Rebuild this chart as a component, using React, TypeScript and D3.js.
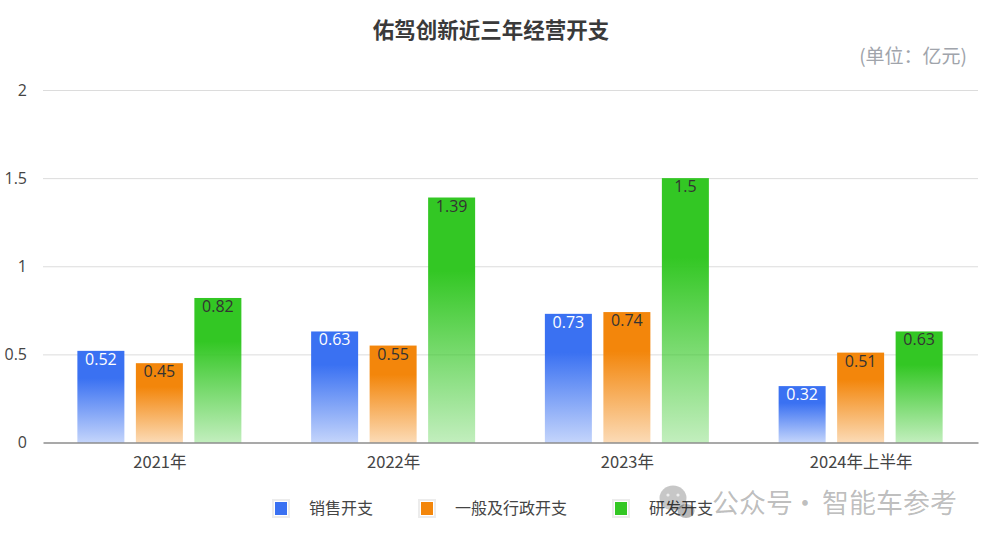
import { useEffect, useRef } from "react"
import * as d3 from "d3"

const categories = ["2021年", "2022年", "2023年", "2024年上半年"]
const seriesNames = ["销售开支", "一般及行政开支", "研发开支"]
const salesValues = [0.52, 0.63, 0.73, 0.32]
const adminValues = [0.45, 0.55, 0.74, 0.51]
const rdValues = [0.82, 1.39, 1.5, 0.63]
const seriesColors = ["#3a71f2", "#f3860b", "#33c724"]
const labelColors = ["#ffffff", "#333333", "#333333"]
const yTicks = [0, 0.5, 1, 1.5, 2]

const FONT = "'Open Sans', 'Noto Sans CJK SC', sans-serif"
const CJK = "'Noto Sans CJK SC', sans-serif"
const width = 991
const height = 544
const margin = { top: 90, right: 13, bottom: 101.5, left: 43 }

const App = () => {
  const svgRef = useRef<SVGSVGElement | null>(null)

  useEffect(() => {
    const svg = d3.select(svgRef.current)
    svg.selectAll("*").remove()
    svg.attr("width", width).attr("height", height).style("font-family", FONT)

    const allSeries = [salesValues, adminValues, rdValues]

    const xScale = d3
      .scaleBand()
      .domain(categories)
      .range([margin.left, width - margin.right])

    const yScale = d3
      .scaleLinear()
      .domain([0, 2])
      .range([height - margin.bottom, margin.top])

    // Bars fade out towards the axis
    const defs = svg.append("defs")
    seriesColors.forEach((color, i) => {
      const grad = defs
        .append("linearGradient")
        .attr("id", `fade-${i}`)
        .attr("x1", 0)
        .attr("x2", 0)
        .attr("y1", 0)
        .attr("y2", 1)
      grad.append("stop").attr("offset", "0%").attr("stop-color", color)
      grad.append("stop").attr("offset", "30%").attr("stop-color", color)
      grad
        .append("stop")
        .attr("offset", "100%")
        .attr("stop-color", color)
        .attr("stop-opacity", 0.3)
    })

    // Title and unit
    svg
      .append("text")
      .attr("x", 491)
      .attr("y", 38)
      .attr("text-anchor", "middle")
      .attr("font-size", 21.5)
      .attr("font-weight", 700)
      .attr("font-family", CJK)
      .attr("fill", "#3a3a3a")
      .text("佑驾创新近三年经营开支")

    svg
      .append("text")
      .attr("x", 967)
      .attr("y", 63)
      .attr("text-anchor", "end")
      .attr("font-size", 19)
      .attr("font-family", CJK)
      .attr("fill", "#a0a4ab")
      .text("(单位\uFF1A亿元)")

    // Grid lines
    svg
      .append("g")
      .selectAll("line")
      .data(yTicks.filter((t) => t !== 0))
      .enter()
      .append("line")
      .attr("x1", margin.left)
      .attr("x2", width - margin.right)
      .attr("y1", (d) => yScale(d) + 0.5)
      .attr("y2", (d) => yScale(d) + 0.5)
      .attr("stroke", "#dcdcdc")

    // Y axis labels
    const yAxis = d3
      .axisLeft(yScale)
      .tickValues(yTicks)
      .tickSize(0)
      .tickPadding(16)
      .tickFormat((d) => `${d}`)
    const yAxisG = svg
      .append("g")
      .attr("transform", `translate(${margin.left},0)`)
      .call(yAxis)
    yAxisG.select(".domain").remove()
    yAxisG
      .selectAll("text")
      .attr("font-size", 16)
      .attr("font-family", FONT)
      .attr("fill", "#444")

    // Bars
    const barWidth = 47
    const step = 58.5
    allSeries.forEach((values, i) => {
      const barX = (cat: string) =>
        xScale(cat)! + xScale.bandwidth() / 2 - 0.5 + (i - 1) * step - barWidth / 2

      const group = svg.append("g")
      group
        .selectAll("rect")
        .data(values)
        .enter()
        .append("rect")
        .attr("x", (_, j) => barX(categories[j]))
        .attr("y", (d) => yScale(d))
        .attr("width", barWidth)
        .attr("height", (d) => yScale(0) - yScale(d))
        .attr("fill", `url(#fade-${i})`)

      group
        .selectAll("text")
        .data(values)
        .enter()
        .append("text")
        .attr("x", (_, j) => barX(categories[j]) + barWidth / 2)
        .attr("y", (d) => yScale(d) + 14)
        .attr("text-anchor", "middle")
        .attr("font-size", 16)
        .attr("fill", labelColors[i])
        .text((d) => `${d}`)
    })

    // X axis
    const xAxis = d3.axisBottom(xScale).tickSize(0).tickPadding(14)
    const xAxisG = svg
      .append("g")
      .attr("transform", `translate(0,${height - margin.bottom})`)
      .call(xAxis)
    xAxisG.select(".domain").attr("stroke", "#555").attr("stroke-width", 1.2)
    xAxisG
      .selectAll("text")
      .attr("font-size", 16.5)
      .attr("font-family", CJK)
      .attr("fill", "#444")

    // Legend
    const legendX = [272, 418, 612]
    const legend = svg
      .append("g")
      .selectAll("g")
      .data(seriesNames)
      .enter()
      .append("g")
      .attr("transform", (_, i) => `translate(${legendX[i]},499)`)
    legend
      .append("rect")
      .attr("width", 18)
      .attr("height", 19)
      .attr("fill", "#ececec")
    legend
      .append("rect")
      .attr("x", 2)
      .attr("y", 2)
      .attr("width", 14)
      .attr("height", 15)
      .attr("fill", "#fff")
    legend
      .append("rect")
      .attr("x", 3)
      .attr("y", 3)
      .attr("width", 12)
      .attr("height", 13)
      .attr("fill", (_, i) => seriesColors[i])
    legend
      .append("text")
      .attr("x", 37)
      .attr("y", 15)
      .attr("font-size", 16)
      .attr("font-family", CJK)
      .attr("fill", "#444")
      .text((d) => d)

    // Watermark, semi-transparent so the legend label shows through
    const mark = svg.append("g")
    mark
      .append("ellipse")
      .attr("cx", 673)
      .attr("cy", 498)
      .attr("rx", 13.5)
      .attr("ry", 12.5)
      .attr("fill", "#000")
      .attr("fill-opacity", 0.22)
    mark
      .append("ellipse")
      .attr("cx", 686)
      .attr("cy", 511)
      .attr("rx", 8.5)
      .attr("ry", 7)
      .attr("fill", "#000")
      .attr("fill-opacity", 0.28)
    mark
      .selectAll("circle")
      .data([668, 678])
      .enter()
      .append("circle")
      .attr("cx", (d) => d)
      .attr("cy", 495)
      .attr("r", 1.6)
      .attr("fill", "#fff")
      .attr("fill-opacity", 0.7)
    const markLabels: [number, string, string][] = [
      [712, "start", "公众号"],
      [805, "middle", "·"],
      [822, "start", "智能车参考"],
    ]
    mark
      .selectAll("text")
      .data(markLabels)
      .enter()
      .append("text")
      .attr("x", (d) => d[0])
      .attr("y", 513)
      .attr("text-anchor", (d) => d[1])
      .attr("font-size", 27)
      .attr("font-family", CJK)
      .attr("fill", "#000")
      .attr("fill-opacity", 0.27)
      .text((d) => d[2])
  }, [])

  return <svg ref={svgRef} style={{ position: "absolute", left: 0, top: 0, background: "#fff" }} />
}

export default App
